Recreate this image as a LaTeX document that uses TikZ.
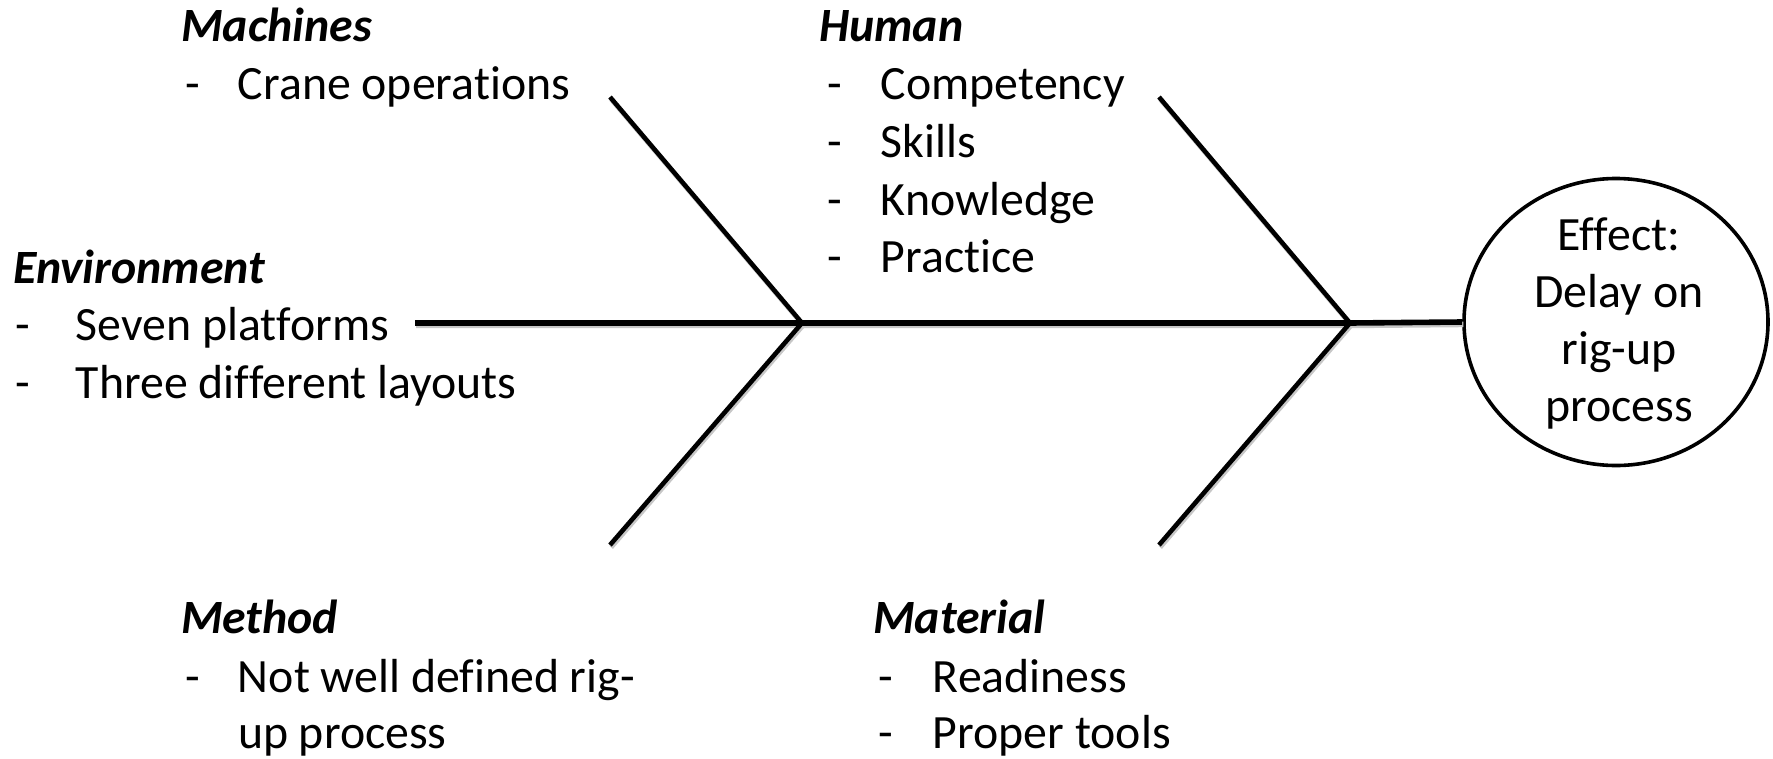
\documentclass[tikz,border=0pt]{standalone}
\usepackage{fontspec}
\setmainfont{Carlito}[Ligatures=NoCommon]
\usetikzlibrary{shapes.geometric}

% one list entry: a hyphen, then the text at a fixed indent
\newcommand{\entry}[2][53pt]{\makebox[#1][l]{-}#2}

\tikzset{
  txt/.style={inner sep=0pt, outer sep=0pt, anchor=base west,
              font=\fontsize{47.8}{57.5}\selectfont},
  head/.style={txt, font=\fontsize{47.8}{57.5}\selectfont\bfseries\itshape},
  spine/.style={line width=5.6pt, line cap=butt, line join=miter},
  bone/.style={line width=4.6pt, line cap=butt},
  shade/.style={draw=black!22, transform canvas={shift={(1.2pt,-2.4pt)}}},
}

\begin{document}
\begin{tikzpicture}[x=1pt, y=-1pt]
\useasboundingbox (0,0) rectangle (1773,758);

% effect ellipse and its text
\node[ellipse, draw, line width=3.6pt, minimum width=304pt, minimum height=287pt,
      inner sep=0pt] (eff) at (1616,322) {};
\node[inner sep=0pt, align=center, font=\fontsize{47.8}{57}\selectfont]
      (efftext) at (1619,323) {Effect:\\Delay on\\rig-up\\process};

% skeleton points
\coordinate (spL) at (415,323);
\coordinate (J1) at (802,323);
\coordinate (J2) at (1350,323);
\coordinate (b1) at (610,97);
\coordinate (b2) at (610,545);
\coordinate (b3) at (1159,97);
\coordinate (b4) at (1159,545);

% soft shadow under the lines
\draw[spine, shade] (spL) -- (J1) -- (J2) -- (eff.west);
\draw[bone, shade] (b1) -- (J1) -- (b2);
\draw[bone, shade] (b3) -- (J2) -- (b4);

% spine and bones
\draw[spine] (spL) -- (J1) -- (J2) -- (eff.west);
\draw[bone] (b1) -- (J1) -- (b2);
\draw[bone] (b3) -- (J2) -- (b4);

% Machines
\node[head] (mach) at (181,41) {Machines};
\node[txt] (mach1) at (185,99) {\entry{Crane operations}};

% Human
\node[head] (hum) at (819,41) {Human};
\node[txt] (hum1) at (827,99) {\entry[54pt]{Competency}};
\node[txt] (hum2) at (827,157) {\entry[54pt]{Skills}};
\node[txt] (hum3) at (827,215) {\entry[54pt]{Knowledge}};
\node[txt] (hum4) at (827,272) {\entry[54pt]{Practice}};

% Environment
\node[head] (env) at (13,283) {Environment};
\node[txt] (env1) at (15,340) {\entry[61pt]{Seven platforms}};
\node[txt] (env2) at (15,398) {\entry[61pt]{Three different layouts}};

% Method
\node[head] (meth) at (181,633) {Method};
\node[txt] (meth1) at (185,692) {\entry{Not well defined rig-}};
\node[txt] (meth2) at (238,748) {up process};

% Material
\node[head] (mat) at (873,633) {Material};
\node[txt] (mat1) at (878,692) {\entry[55pt]{Readiness}};
\node[txt] (mat2) at (878,748) {\entry[55pt]{Proper tools}};
\end{tikzpicture}
\end{document}
